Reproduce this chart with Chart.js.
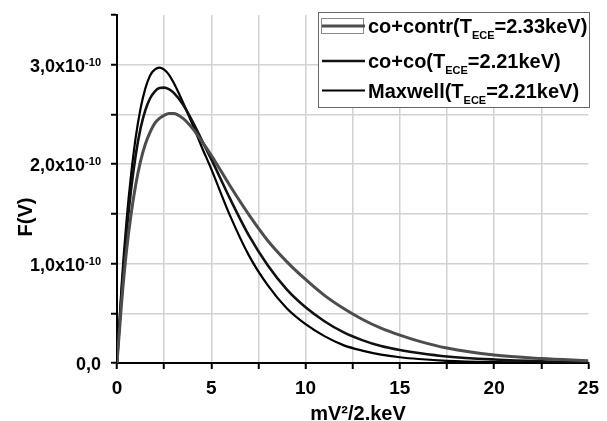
<!DOCTYPE html>
<html lang="en">
<head>
  <meta charset="UTF-8">
  <title>F(V) distributions</title>
  <script src="https://cdn.jsdelivr.net/npm/chart.js"></script>
  <style>
    body { margin: 0; background: #fff; }
    canvas { display: block; }
  </style>
</head>
<body>
  <canvas id="dist-chart" width="607" height="421"></canvas>

  <script>
    // energy axis, mV^2/2 in keV
    const energy = [0, 0.25, 0.5, 0.75, 1, 1.25, 1.5, 1.75, 2, 2.25, 2.5, 2.75, 3, 3.5, 4, 4.5,
                    5, 6, 7, 8, 9, 10, 11, 12, 13, 14, 15, 16, 17.5, 20, 22.5, 25];

    // F(V) in units of 1e-10
    const coContr = [0, 0.62, 1.12, 1.50, 1.80, 2.03, 2.20, 2.32, 2.41, 2.46, 2.49, 2.51, 2.51, 2.46, 2.36, 2.23,
                     2.09, 1.78, 1.49, 1.23, 1.02, 0.84, 0.68, 0.55, 0.44, 0.35, 0.28, 0.22, 0.15, 0.08, 0.045, 0.023];
    const coCo = [0, 0.72, 1.30, 1.75, 2.10, 2.36, 2.54, 2.66, 2.73, 2.765, 2.77, 2.755, 2.72, 2.60, 2.43, 2.24,
                  2.05, 1.65, 1.28, 0.98, 0.74, 0.56, 0.42, 0.31, 0.23, 0.17, 0.13, 0.10, 0.065, 0.035, 0.018, 0.010];
    const maxwell = [0, 0.80, 1.42, 1.90, 2.28, 2.56, 2.76, 2.89, 2.95, 2.97, 2.95, 2.90, 2.82, 2.62, 2.40, 2.17,
                     1.95, 1.48, 1.08, 0.78, 0.55, 0.39, 0.27, 0.18, 0.125, 0.085, 0.058, 0.040, 0.022, 0.009, 0.004, 0.002];

    const seriesNames = ['co+contr(T', 'co+co(T', 'Maxwell(T'];
    const seriesTemps = ['=2.33keV)', '=2.21keV)', '=2.21keV)'];
    const yTickValues = [0, 1, 2, 3];
    const yTickLabels = ['0,0', '1,0x10', '2,0x10', '3,0x10'];
    const yTickExp = ['', '-10', '-10', '-10'];
    const xTickLabels = ['0', '5', '10', '15', '20', '25'];

    const FONT = '"Liberation Sans", Arial, sans-serif';
    const colors = ['#4d4d4d', '#111111', '#000000'];
    const widths = [3, 2.6, 2.2];

    const toPoints = (ys) => energy.map((x, i) => ({ x: x, y: ys[i] }));

    // axis labels with superscripts + legend with subscripts
    const textPlugin = {
      id: 'textPlugin',
      afterDraw(chart) {
        const ctx = chart.ctx;
        const ys = chart.scales.y;
        const area = chart.chartArea;
        ctx.save();
        ctx.fillStyle = '#000';

        // y tick labels
        yTickValues.forEach((v, i) => {
          const py = ys.getPixelForValue(v);
          ctx.textBaseline = 'alphabetic';
          ctx.textAlign = 'right';
          if (yTickExp[i]) {
            ctx.font = 'bold 11px ' + FONT;
            const ew = ctx.measureText(yTickExp[i]).width;
            ctx.fillText(yTickExp[i], 101, py + 1);
            ctx.font = 'bold 18px ' + FONT;
            ctx.fillText(yTickLabels[i], 101 - ew, py + 7);
          } else {
            ctx.font = 'bold 18px ' + FONT;
            ctx.fillText(yTickLabels[i], 101, py + 7);
          }
        });

        // y title
        ctx.save();
        ctx.translate(32, (area.top + area.bottom) / 2 + 28);
        ctx.rotate(-Math.PI / 2);
        ctx.textAlign = 'center';
        ctx.font = 'bold 20px ' + FONT;
        ctx.fillText('F(V)', 0, 0);
        ctx.restore();

        // x title
        ctx.textAlign = 'center';
        ctx.font = 'bold 20px ' + FONT;
        ctx.fillText('mV\u00B2/2.keV', 358, 420);

        // legend
        const bx = 318.5, by = 12.5, bw = 271, bh = 95;
        ctx.fillStyle = '#fff';
        ctx.fillRect(bx, by, bw, bh);
        ctx.strokeStyle = '#666';
        ctx.lineWidth = 1;
        ctx.strokeRect(bx, by, bw, bh);

        const rows = [33, 68, 97.5];
        const lineY = [26, 61, 90.5];
        rows.forEach((base, i) => {
          if (i === 0) {
            ctx.strokeStyle = '#888';
            ctx.lineWidth = 1;
            ctx.strokeRect(321.5, 18.5, 42, 15);
          }
          ctx.strokeStyle = colors[i];
          ctx.lineWidth = widths[i];
          ctx.beginPath();
          ctx.moveTo(322, lineY[i]);
          ctx.lineTo(365, lineY[i]);
          ctx.stroke();

          ctx.fillStyle = '#000';
          ctx.textAlign = 'left';
          let x = 368;
          ctx.font = 'bold 20px ' + FONT;
          ctx.fillText(seriesNames[i], x, base);
          x += ctx.measureText(seriesNames[i]).width;
          ctx.font = 'bold 11px ' + FONT;
          ctx.fillText('ECE', x, base + 6);
          x += ctx.measureText('ECE').width;
          ctx.font = 'bold 20px ' + FONT;
          ctx.fillText(seriesTemps[i], x, base);
        });
        ctx.restore();
      }
    };

    const inner = (lo, hi) => (c) =>
      (c.tick && c.tick.value > lo && c.tick.value < hi) ? '#d2d2d2' : 'rgba(0,0,0,0)';

    new Chart(document.getElementById('dist-chart'), {
      type: 'line',
      data: {
        datasets: [coContr, coCo, maxwell].map((ys, i) => ({
          label: seriesNames[i],
          data: toPoints(ys),
          borderColor: colors[i],
          borderWidth: widths[i],
          pointRadius: 0,
          fill: false,
          cubicInterpolationMode: 'monotone'
        }))
      },
      options: {
        responsive: false,
        animation: false,
        layout: { padding: { top: 15, right: 16, left: 0, bottom: 0 } },
        plugins: { legend: { display: false }, tooltip: { enabled: false } },
        scales: {
          x: {
            type: 'linear',
            min: 0,
            max: 25,
            afterFit: (s) => { s.height = 58; },
            border: { color: '#000', width: 2 },
            grid: { color: inner(0, 25), lineWidth: 1.5, tickColor: '#000', tickLength: 6, tickWidth: 2 },
            ticks: {
              stepSize: 2.5,
              padding: 8,
              color: '#000',
              font: { family: FONT, size: 19, weight: 'bold' },
              maxRotation: 0,
              callback: (v) => (v % 5 === 0 ? xTickLabels[v / 5] : '')
            }
          },
          y: {
            min: 0,
            max: 3.5,
            afterFit: (s) => { s.width = 117; },
            border: { color: '#000', width: 2 },
            grid: { color: inner(0, 3.25), lineWidth: 1.5, tickColor: '#000', tickLength: 6, tickWidth: 2 },
            ticks: { stepSize: 0.5, display: false }
          }
        }
      },
      plugins: [textPlugin]
    });
  </script>
</body>
</html>
